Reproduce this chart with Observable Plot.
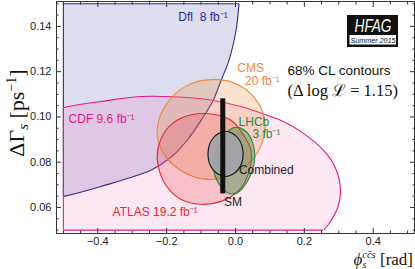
<!DOCTYPE html>
<html><head><meta charset="utf-8">
<script src="https://cdn.jsdelivr.net/npm/d3@7"></script>
<script src="https://cdn.jsdelivr.net/npm/@observablehq/plot@0.6"></script>
<style>
html,body{margin:0;padding:0;background:#fff;}
#chart{width:415px;height:269px;}
</style></head><body><div id="chart"></div>
<script>
// ---- contour boundaries [phi_s (rad), DeltaGamma_s (ps^-1)] ----
// (Dfl and CDF extend outside the plotted box; they are clipped to clipBox)
const dflContour = [[0.022,0.175],[0.017,0.161],[0.010,0.1493],[0.0015,0.1382],[-0.019,0.1250],[-0.042,0.1161],[-0.065,0.1073],[-0.100,0.0985],[-0.141,0.0896],[-0.188,0.0821],[-0.246,0.0764],[-0.391,0.0693],[-0.499,0.0649],[-0.56,0.0632],[-0.62,0.075],[-0.62,0.17],[-0.3,0.19]];
const cdfContour = [[-0.62,0.100],[-0.500,0.1042],[-0.392,0.1068],[-0.276,0.1090],[-0.180,0.1089],[-0.081,0.1077],[0.015,0.1046],[0.102,0.1002],[0.139,0.0980],[0.189,0.0936],[0.256,0.0852],[0.291,0.0772],[0.305,0.0675],[0.297,0.0600],[0.272,0.0529],[0.256,0.0498],[0.22,0.042],[0.0,0.03],[-0.62,0.035]];
const cmsContour = [[-0.061,0.1166],[0.012,0.1139],[0.067,0.1059],[0.086,0.0962],[0.064,0.0843],[0.003,0.0755],[-0.081,0.0724],[-0.154,0.0759],[-0.209,0.0839],[-0.228,0.0936],[-0.203,0.1051],[-0.145,0.1135]];
const atlasContour = [[-0.086,0.1015],[-0.013,0.0985],[0.022,0.0923],[0.045,0.0853],[0.039,0.0756],[0.010,0.0676],[-0.042,0.0627],[-0.100,0.0614],[-0.159,0.0636],[-0.202,0.0698],[-0.225,0.0787],[-0.225,0.0861],[-0.202,0.0941],[-0.159,0.0994]];
const lhcbContour = [[0.007,0.0954],[0.036,0.0927],[0.054,0.0861],[0.054,0.0794],[0.036,0.0719],[0.007,0.0666],[-0.019,0.0662],[-0.045,0.0697],[-0.063,0.0764],[-0.057,0.0843],[-0.036,0.0909],[-0.016,0.0945]];
const combinedContour = [[-0.029,0.0937],[0.007,0.0907],[0.022,0.0836],[0.007,0.0766],[-0.029,0.0737],[-0.065,0.0766],[-0.080,0.0836],[-0.065,0.0907]];
// Standard Model prediction: phi_s and DeltaGamma_s range
const smPrediction = [{phi: -0.037, lo: 0.066, hi: 0.108}];
// plotted box of the clipped contours
const clipBox = {x: [-0.5, 0.5], y: [0.05, 0.15]};
// straight edges of clipped contours along the box
const dflEdgesX = [{x: -0.5, y1: 0.0649, y2: 0.15}];
const dflEdgesY = [{y: 0.15, x1: -0.5, x2: 0.011}];
const cdfEdgesX = [{x: -0.5, y1: 0.05, y2: 0.1042}];
const cdfEdgesY = [{y: 0.05, x1: -0.5, x2: 0.256}];
// ticks
const xMajor = [-0.4, -0.2, 0, 0.2, 0.4];
const xTickLabels = ["\u22120.4", "\u22120.2", "0.0", "0.2", "0.4"];
const xMinor = [-0.5,-0.45,-0.35,-0.3,-0.25,-0.15,-0.1,-0.05,0.05,0.1,0.15,0.25,0.3,0.35,0.45,0.5];
const yMajor = [0.06, 0.08, 0.10, 0.12, 0.14];
const yTickLabels = ["0.06", "0.08", "0.10", "0.12", "0.14"];
const yMinor = [0.05,0.055,0.065,0.07,0.075,0.085,0.09,0.095,0.105,0.11,0.115,0.125,0.13,0.135,0.145,0.15];
// labels
const labelTexts = ["Dfl\u00a0\u00a08 fb\u207b\u00b9", "CMS", "20 fb\u207b\u00b9", "CDF 9.6 fb\u207b\u00b9", "LHCb", "3 fb\u207b\u00b9", "Combined", "SM", "ATLAS 19.2 fb\u207b\u00b9", "68% CL contours", "(\u0394 log \u2112 = 1.15)"];
const labelPhi = [-0.166, 0.044, 0.078, -0.485, 0.009, 0.090, 0.010, -0.007, -0.357, 0.151, 0.151];
const labelDG  = [0.1440, 0.1216, 0.1157, 0.0989, 0.0978, 0.0925, 0.0763, 0.0622, 0.0578, 0.1205, 0.1117];

// ---- styles ----
const C = {dfl:"#2b2b8f", cdf:"#e8168c", cms:"#f08a3c", atlas:"#e8262e", lhcb:"#1e8a3c", comb:"#111"};
const regions = [
  {pts: dflContour, stroke: C.dfl, fill: "#2e2e96", op: 0.16, clip: true},
  {pts: cdfContour, stroke: C.cdf, fill: "#e8168c", op: 0.10, clip: true},
  {pts: cmsContour, stroke: C.cms, fill: "#f08a3c", op: 0.25, clip: false},
  {pts: atlasContour, stroke: C.atlas, fill: "#e8262e", op: 0.2, clip: false},
  {pts: lhcbContour, stroke: C.lhcb, fill: "#2a9040", op: 0.4, clip: false},
  {pts: combinedContour, stroke: "#111", fill: "#a2a3aa", op: 0.92, clip: false}
];
const labelStyle = [
  {fill: C.dfl, anchor: "start", size: 12, font: "Liberation Sans"},
  {fill: C.cms, anchor: "middle", size: 12, font: "Liberation Sans"},
  {fill: C.cms, anchor: "middle", size: 12, font: "Liberation Sans"},
  {fill: C.cdf, anchor: "start", size: 12, font: "Liberation Sans"},
  {fill: C.lhcb, anchor: "start", size: 12, font: "Liberation Sans"},
  {fill: C.lhcb, anchor: "middle", size: 12, font: "Liberation Sans"},
  {fill: "#222", anchor: "start", size: 12, font: "Liberation Sans"},
  {fill: "#222", anchor: "middle", size: 12, font: "Liberation Sans"},
  {fill: C.atlas, anchor: "start", size: 12, font: "Liberation Sans"},
  {fill: "#111", anchor: "start", size: 13.5, font: "Liberation Sans"},
  {fill: "#111", anchor: "start", size: 16.5, font: "Liberation Serif, DejaVu Serif, serif"}
];

const marks = [];
regions.forEach((r, i) => {
  marks.push(Plot.line(r.pts, {x: d => d[0], y: d => d[1], curve: "catmull-rom-closed",
    fill: r.fill, fillOpacity: r.op, stroke: r.stroke, strokeWidth: 1.1,
    ariaDescription: r.clip ? "clipped" : "contour"}));
  if (i === 0) {
    marks.push(Plot.ruleX(dflEdgesX, {x: "x", y1: "y1", y2: "y2", stroke: C.dfl, strokeWidth: 1.1}));
    marks.push(Plot.ruleY(dflEdgesY, {y: "y", x1: "x1", x2: "x2", stroke: C.dfl, strokeWidth: 1.1}));
  }
  if (i === 1) {
    marks.push(Plot.ruleX(cdfEdgesX, {x: "x", y1: "y1", y2: "y2", stroke: C.cdf, strokeWidth: 1.1}));
    marks.push(Plot.ruleY(cdfEdgesY, {y: "y", x1: "x1", x2: "x2", stroke: C.cdf, strokeWidth: 1.1}));
  }
});
marks.push(Plot.ruleX(smPrediction, {x: "phi", y1: "lo", y2: "hi", stroke: "#111", strokeWidth: 5}));
labelTexts.forEach((t, i) => {
  const s = labelStyle[i];
  marks.push(Plot.text([{x: labelPhi[i], y: labelDG[i], t}], {x: "x", y: "y", text: "t",
    fill: s.fill, textAnchor: s.anchor, fontSize: s.size, fontFamily: s.font}));
});
// frame and ticks
marks.push(Plot.frame({stroke: "#333", strokeWidth: 1}));
const tk = {stroke: "#333", fill: "none", label: null};
marks.push(Plot.axisX(xMajor, {...tk, anchor: "bottom", tickSize: -5}));
marks.push(Plot.axisX(xMinor, {...tk, anchor: "bottom", tickSize: -2.5}));
marks.push(Plot.axisX(xMajor, {...tk, anchor: "top", tickSize: -5}));
marks.push(Plot.axisX(xMinor, {...tk, anchor: "top", tickSize: -2.5}));
marks.push(Plot.axisY(yMajor, {...tk, anchor: "left", tickSize: -5}));
marks.push(Plot.axisY(yMinor, {...tk, anchor: "left", tickSize: -2.5}));
marks.push(Plot.axisY(yMajor, {...tk, anchor: "right", tickSize: -5}));
marks.push(Plot.axisY(yMinor, {...tk, anchor: "right", tickSize: -2.5}));
marks.push(Plot.axisX(xMajor, {anchor: "bottom", tickSize: 0, tickPadding: 4, label: null, fill: "#222",
  tickFormat: d => xTickLabels[xMajor.indexOf(d)]}));
marks.push(Plot.axisY(yMajor, {anchor: "left", tickSize: 0, tickPadding: 5, label: null, fill: "#222",
  tickFormat: d => yTickLabels[yMajor.indexOf(d)]}));

const chart = Plot.plot({
  width: 415, height: 269,
  marginLeft: 56, marginRight: 1, marginTop: 1, marginBottom: 36,
  x: {domain: [-0.52, 0.52]},
  y: {domain: [0.0485, 0.151]},
  style: {fontFamily: "Liberation Sans, Arial, sans-serif", fontSize: "11px", background: "#fff"},
  marks
});
document.getElementById("chart").appendChild(chart);

// clip the Dfl / CDF contours to the box, through the plot's scales
const sx = chart.scale("x"), sy = chart.scale("y");
const svg = d3.select(chart);
const bx0 = sx.apply(clipBox.x[0]), bx1 = sx.apply(clipBox.x[1]);
const by0 = sy.apply(clipBox.y[1]), by1 = sy.apply(clipBox.y[0]);
svg.insert("defs", ":first-child").append("clipPath").attr("id", "boxclip")
  .append("rect").attr("x", bx0).attr("y", by0).attr("width", bx1 - bx0).attr("height", by1 - by0);
svg.selectAll('g[aria-description="clipped"]').attr("clip-path", "url(#boxclip)");

// axis titles
const yl = svg.append("text").attr("transform", "translate(24,113) rotate(-90)")
  .attr("text-anchor", "middle").attr("font-family", "Liberation Serif, DejaVu Serif, serif")
  .attr("font-size", 22).attr("fill", "#111");
yl.append("tspan").text("\u0394\u0393");
yl.append("tspan").attr("font-style", "italic").attr("font-size", 15).attr("dy", 4).text("s");
yl.append("tspan").attr("dy", -4).text("\u00a0[ps");
yl.append("tspan").attr("font-size", 14).attr("dy", -8).text("\u22121");
yl.append("tspan").attr("dy", 8).text("]");

const xl = svg.append("text").attr("x", 413).attr("y", 265).attr("text-anchor", "end")
  .attr("font-family", "Liberation Serif, DejaVu Serif, serif").attr("font-size", 17).attr("fill", "#111");
xl.append("tspan").attr("font-style", "italic").text("\u03d5");
xl.append("tspan").attr("font-style", "italic").attr("font-size", 10.5).attr("dy", 3).text("s");
xl.append("tspan").attr("font-style", "italic").attr("font-size", 10.5).attr("dx", -4).attr("dy", -10).text("c\u0063\u0304s");
xl.append("tspan").attr("dy", 7).text("\u00a0[rad]");

// HFAG logo
const lg = svg.append("g");
lg.append("rect").attr("x", 347).attr("y", 15).attr("width", 51).attr("height", 32).attr("fill", "#111");
lg.append("rect").attr("x", 349.5).attr("y", 35).attr("width", 46.5).attr("height", 9.5).attr("fill", "#fff");
lg.append("g").attr("transform", "translate(373,32) scale(0.72,1)")
  .append("text").attr("text-anchor", "middle").attr("font-family", "Liberation Sans, Arial, sans-serif")
  .attr("font-style", "italic").attr("font-size", 19).attr("fill", "#fff").text("HFAG");
lg.append("g").attr("transform", "translate(373,42.6) scale(0.9,1)")
  .append("text").attr("text-anchor", "middle").attr("font-family", "Liberation Sans, Arial, sans-serif")
  .attr("font-style", "italic").attr("font-size", 8).attr("fill", "#111").text("Summer 2015");
</script></body></html>
